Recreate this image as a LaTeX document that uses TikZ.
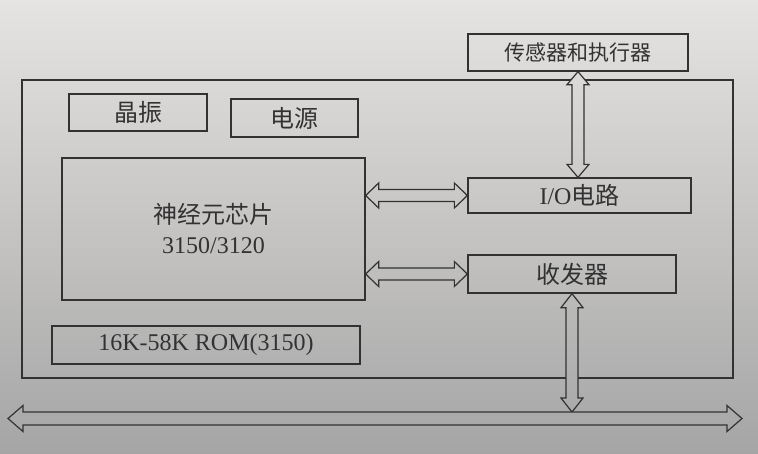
\documentclass[tikz,border=0pt]{standalone}
\usepackage{fontspec}
\setmainfont{Liberation Serif}
\newfontfamily\cjk{Noto Sans CJK SC}
\usetikzlibrary{calc}
\definecolor{ink}{RGB}{50,50,50}
\definecolor{bgtop}{RGB}{230,228,226}
\definecolor{bgbot}{RGB}{165,165,165}
\tikzset{
  box/.style={draw=ink, line width=1.3pt, rectangle, inner sep=0pt, text=ink,
    font=\fontsize{24}{30}\selectfont, align=center},
  bgfill/.style={path picture={\shade[top color=bgtop,bottom color=bgbot] (0,0) rectangle (758,453);}},
  arrowline/.style={draw=ink, line width=1.2pt, line join=miter, bgfill}
}
% horizontal hollow double arrow: #1 left tip, #2 right tip, #3 shaft half width, #4 head half width, #5 head length
\newcommand\harrow[5]{%
  \draw[arrowline] let \p1=(#1), \p2=(#2) in
    (\x1,\y1) -- (\x1+#5pt,\y1+#4pt) -- (\x1+#5pt,\y1+#3pt) -- (\x2-#5pt,\y1+#3pt)
    -- (\x2-#5pt,\y1+#4pt) -- (\x2,\y1) -- (\x2-#5pt,\y1-#4pt) -- (\x2-#5pt,\y1-#3pt)
    -- (\x1+#5pt,\y1-#3pt) -- (\x1+#5pt,\y1-#4pt) -- cycle;}
% vertical hollow double arrow: #1 top tip, #2 bottom tip
\newcommand\varrow[5]{%
  \draw[arrowline] let \p1=(#1), \p2=(#2) in
    (\x1,\y1) -- (\x1+#4pt,\y1-#5pt) -- (\x1+#3pt,\y1-#5pt) -- (\x1+#3pt,\y2+#5pt)
    -- (\x1+#4pt,\y2+#5pt) -- (\x1,\y2) -- (\x1-#4pt,\y2+#5pt) -- (\x1-#3pt,\y2+#5pt)
    -- (\x1-#3pt,\y1-#5pt) -- (\x1-#4pt,\y1-#5pt) -- cycle;}
\begin{document}
\begin{tikzpicture}[x=1pt,y=-1pt]
\shade[top color=bgtop,bottom color=bgbot] (0,0) rectangle (758,453);
\useasboundingbox (0,0) rectangle (758,453);

\node[box, minimum width=711, minimum height=298] (board) at (377.5,229) {};
\node[box, minimum width=220, minimum height=37, font=\fontsize{21}{26}\selectfont] (sensor) at (578,52.5) {\cjk 传感器和执行器};
\node[box, minimum width=138, minimum height=37] (xtal) at (138,112.5) {\cjk 晶振};
\node[box, minimum width=127, minimum height=38] (power) at (294.5,118) {\cjk 电源};
\node[box, minimum width=303, minimum height=142] (chip) at (213.5,229) {{\cjk 神经元芯片}\\3150/3120};
\node[box, minimum width=308, minimum height=38] (rom) at (206,345) {16K-58K ROM(3150)};
\node[box, minimum width=223, minimum height=35] (io) at (579.5,195.5) {I/O{\cjk 电路}};
\node[box, minimum width=208, minimum height=38] (trx) at (572,274) {\cjk 收发器};

\coordinate (busL) at (8,418.5);
\coordinate (busR) at (742,418.5);

\harrow{chip.east |- io.west}{io.west}{6}{12.5}{13}
\harrow{chip.east |- trx.west}{trx.west}{6}{12.5}{13}
\varrow{sensor.south}{sensor.south |- io.north}{6}{11}{13}
\varrow{trx.south}{$(trx.south |- busL)+(0,-6.5)$}{6}{11}{14}
\harrow{busL}{busR}{6.5}{13}{15}
\end{tikzpicture}
\end{document}
